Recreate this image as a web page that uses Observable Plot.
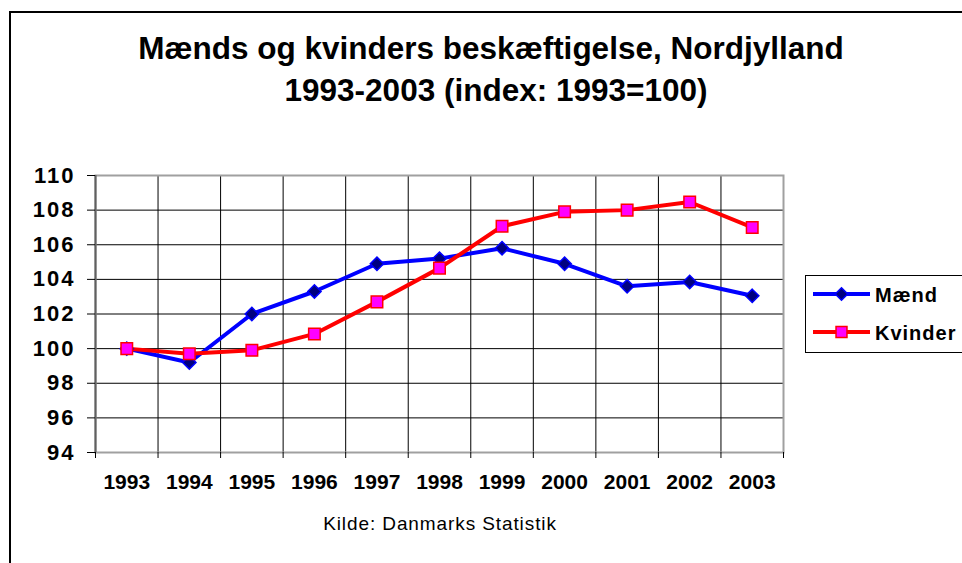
<!DOCTYPE html>
<html>
<head>
<meta charset="utf-8">
<script src="https://cdn.jsdelivr.net/npm/d3@7"></script>
<script src="https://cdn.jsdelivr.net/npm/@observablehq/plot@0.6"></script>
<style>
  html, body { margin: 0; padding: 0; background: #fff; }
  #wrap { position: relative; width: 962px; height: 563px; overflow: hidden; font-family: "Liberation Sans", Arial, sans-serif; }
  #frame { position: absolute; left: 9px; top: 11px; width: 1000px; height: 600px; border-left: 2px solid #000; border-top: 2px solid #000; }
  .title { position: absolute; left: 0; width: 982px; text-align: center; font-weight: bold; font-size: 31.5px; color: #000; white-space: nowrap; line-height: 1; }
  #kilde { position: absolute; left: 240px; width: 400px; top: 514px; text-align: center; font-size: 19px; letter-spacing: 0.9px; line-height: 1; }
  #legend { position: absolute; left: 805px; top: 275px; width: 200px; height: 76px; border: 1px solid #000; background: #fff; }
  #chart { position: absolute; left: 0; top: 0; }
</style>
</head>
<body>
<div id="wrap">
  <div id="frame"></div>
  <div id="chart"></div>
  <div class="title" style="top:33px">Mænds og kvinders beskæftigelse, Nordjylland</div>
  <div class="title" style="top:75px; left:5px">1993-2003 (index: 1993=100)</div>
  <div id="kilde">Kilde: Danmarks Statistik</div>
  <div id="legend"></div>
</div>
<script>
const years = [1993, 1994, 1995, 1996, 1997, 1998, 1999, 2000, 2001, 2002, 2003];
const maend = [100, 99.2, 102.0, 103.3, 104.9, 105.2, 105.8, 104.9, 103.6, 103.85, 103.05];
const kvinder = [100, 99.7, 99.9, 100.85, 102.7, 104.65, 107.07, 107.9, 108.0, 108.47, 107.0];
const yTicks = [94, 96, 98, 100, 102, 104, 106, 108, 110];
const seriesNames = ["Mænd", "Kvinder"];

const dM = years.map((y, i) => ({year: y, value: maend[i], serie: seriesNames[0]}));
const dK = years.map((y, i) => ({year: y, value: kvinder[i], serie: seriesNames[1]}));
const bounds = years.map(y => y - 0.5).concat([years[years.length - 1] + 0.5]);
const xDomain = [bounds[0], bounds[bounds.length - 1]];

const chart = Plot.plot({
  width: 962,
  height: 563,
  marginLeft: 95,
  marginRight: 179,
  marginTop: 175,
  marginBottom: 111,
  style: {fontFamily: "'Liberation Sans', Arial, sans-serif", color: "#000", background: "transparent"},
  x: {domain: xDomain, type: "linear"},
  y: {domain: [yTicks[0], yTicks[yTicks.length - 1]]},
  marks: [
    Plot.ruleY(yTicks.slice(1, -1), {stroke: "#000", strokeWidth: 1}),
    Plot.ruleX(bounds.slice(1, -1), {stroke: "#000", strokeWidth: 1}),
    Plot.frame({stroke: "#a0a0a0", strokeWidth: 2}),
    Plot.ruleX([xDomain[0]], {stroke: "#606060", strokeWidth: 2}),
    Plot.axisY({ticks: yTicks, tickSize: 8, tickPadding: 12, fontSize: 22, fontWeight: "bold", tickFormat: d => String(d), label: null, stroke: "#000", strokeWidth: 1}),
    Plot.axisX({ticks: bounds, tickSize: 6, tickFormat: () => "", label: null, stroke: "#000"}),
    Plot.axisX({ticks: years, tickSize: 0, tickPadding: 22, fontSize: 21, fontWeight: "bold", tickFormat: d => String(d), label: null}),
    Plot.line(dM, {x: "year", y: "value", stroke: "#0000FF", strokeWidth: 4}),
    Plot.line(dK, {x: "year", y: "value", stroke: "#FF0000", strokeWidth: 4}),
    Plot.dot(dM, {x: "year", y: "value", symbol: "diamond2", r: 6, fill: "#000080", stroke: "#0000FF", strokeWidth: 1.5}),
    Plot.dot(dK, {x: "year", y: "value", symbol: "square", r: 6.5, fill: "#FF00FF", stroke: "#FF0000", strokeWidth: 1.5})
  ]
});
d3.select(chart).selectAll("g[aria-label='y-axis tick label']").attr("letter-spacing", "2px");
document.getElementById("chart").appendChild(chart);

// legend
const lg = d3.select("#legend").append("svg").attr("width", 200).attr("height", 76);
const items = [
  {name: seriesNames[0], color: "#0000FF", fill: "#000080", sym: d3.symbolDiamond2, size: 100},
  {name: seriesNames[1], color: "#FF0000", fill: "#FF00FF", sym: d3.symbolSquare, size: 120}
];
items.forEach((it, i) => {
  const cy = 18 + i * 38;
  lg.append("line").attr("x1", 7).attr("x2", 64).attr("y1", cy).attr("y2", cy).attr("stroke", it.color).attr("stroke-width", 4);
  lg.append("path").attr("d", d3.symbol(it.sym, it.size)()).attr("transform", `translate(35.5,${cy})`)
    .attr("fill", it.fill).attr("stroke", it.color).attr("stroke-width", 1.5);
  lg.append("text").attr("x", 69).attr("y", cy + 8).attr("font-size", 20).attr("font-weight", "bold")
    .attr("letter-spacing", "1px")
    .attr("font-family", "'Liberation Sans', Arial, sans-serif").text(it.name);
});
</script>
</body>
</html>
